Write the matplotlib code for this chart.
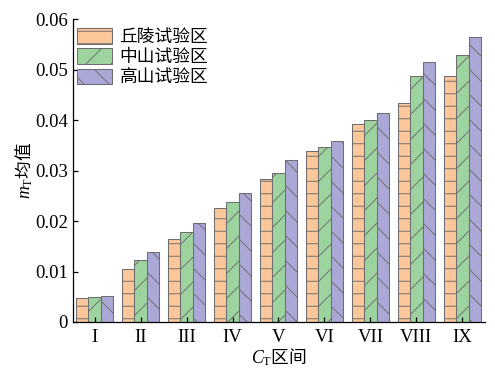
import numpy as np
import matplotlib
matplotlib.use('Agg')
import matplotlib.pyplot as plt

plt.rcParams['font.family'] = ['Liberation Serif', 'Noto Sans CJK SC']
plt.rcParams['mathtext.fontset'] = 'custom'
plt.rcParams['mathtext.it'] = 'Liberation Serif:italic'
plt.rcParams['mathtext.rm'] = 'Liberation Serif'
plt.rcParams['hatch.linewidth'] = 0.9

intervals = ['I', 'II', 'III', 'IV', 'V', 'VI', 'VII', 'VIII', 'IX']
series_names = ['丘陵试验区', '中山试验区', '高山试验区']
hills = [0.0048, 0.0105, 0.0165, 0.0226, 0.0284, 0.0339, 0.0393, 0.0434, 0.0488]
middle = [0.0050, 0.0123, 0.0179, 0.0238, 0.0296, 0.0347, 0.0401, 0.0488, 0.0528]
high = [0.0052, 0.0139, 0.0196, 0.0256, 0.0321, 0.0359, 0.0415, 0.0516, 0.0565]
y_ticks = [0, 0.01, 0.02, 0.03, 0.04, 0.05, 0.06]
y_labels = ['0', '0.01', '0.02', '0.03', '0.04', '0.05', '0.06']

colors = ['#FCC79A', '#9DD39F', '#ABA7D7']
hatches = ['-', '/', '\\']

fig = plt.figure(figsize=(6.6, 368 / 75), dpi=75)
ax = fig.add_axes([0.1475, 0.125, 0.832, 0.823])

x = np.arange(len(intervals))
w = 0.27
for i, (vals, name) in enumerate(zip([hills, middle, high], series_names)):
    ax.bar(x + (i - 1) * w, vals, width=w, color=colors[i], edgecolor='#6E6E6E',
           hatch=hatches[i], linewidth=1.0, label=name)

ax.set_xlim(-0.47, 8.49)
ax.set_ylim(0, 0.06)
ax.set_yticks(y_ticks)
ax.set_yticklabels(y_labels)
ax.set_xticks(x)
ax.set_xticklabels(intervals)
ax.tick_params(direction='in', labelsize=18, width=1.2, length=5)
ax.tick_params(axis='x', pad=7)
ax.tick_params(axis='y', pad=5)
for s in ['top', 'right']:
    ax.spines[s].set_visible(False)
for s in ['left', 'bottom']:
    ax.spines[s].set_linewidth(1.2)

ax.set_xlabel(r'$C_\mathrm{T}$区间', fontsize=17, family='Noto Sans CJK SC', labelpad=0)
ax.set_ylabel(r'$m_\mathrm{T}$均值', fontsize=17, family='Noto Sans CJK SC', labelpad=0)

ax.legend(loc='upper left', bbox_to_anchor=(-0.012, 1.0), frameon=False,
          prop={'family': 'Noto Sans CJK SC', 'size': 17}, borderpad=0,
          handlelength=2.0, handleheight=0.95, handletextpad=0.4, labelspacing=0.12)

fig.savefig('out.png', dpi=75)
